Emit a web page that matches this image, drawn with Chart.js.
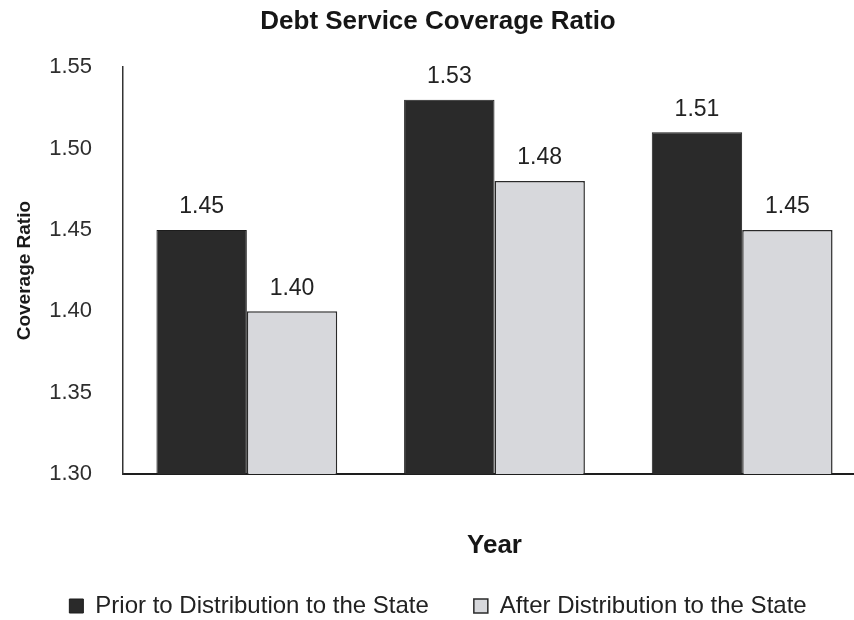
<!DOCTYPE html>
<html>
<head>
<meta charset="utf-8">
<script src="https://cdn.jsdelivr.net/npm/chart.js@4.4.1/dist/chart.umd.min.js"></script>
<style>
  html, body { margin: 0; padding: 0; background: #ffffff; overflow: hidden; width: 854px; height: 620px; }
  #wrap { width: 866px; height: 628px; position: relative; }
</style>
</head>
<body>
<div id="wrap"><canvas id="c" width="866" height="628"></canvas></div>
<script>
// ---- data ----
const categories = ['', '', ''];
const seriesNames = ['Prior to Distribution to the State', 'After Distribution to the State'];
const priorValues = [1.45, 1.53, 1.51];
const afterValues = [1.40, 1.48, 1.45];
const yMin = 1.30;
const yMax = 1.55;
const yStep = 0.05;

const FONT = "'Liberation Sans', Arial, Helvetica, sans-serif";

const valueLabels = {
  id: 'valueLabels',
  afterDatasetsDraw(chart) {
    const ctx = chart.ctx;
    ctx.save();
    ctx.font = "23px " + FONT;
    ctx.fillStyle = '#222222';
    ctx.textAlign = 'center';
    ctx.textBaseline = 'middle';
    chart.data.datasets.forEach((ds, i) => {
      const meta = chart.getDatasetMeta(i);
      meta.data.forEach((bar, j) => {
        ctx.fillText(Number(ds.data[j]).toFixed(2), bar.x, bar.y - 23);
      });
    });
    ctx.restore();
  }
};

new Chart(document.getElementById('c'), {
  type: 'bar',
  data: {
    labels: categories,
    datasets: [
      {
        label: seriesNames[0],
        data: priorValues,
        backgroundColor: '#2a2a2a',
        borderColor: '#1c1c1c',
        borderWidth: 1,
        categoryPercentage: 0.73,
        barPercentage: 1.0
      },
      {
        label: seriesNames[1],
        data: afterValues,
        backgroundColor: '#d7d8dc',
        borderColor: '#2a2a2a',
        borderWidth: 1.5,
        categoryPercentage: 0.73,
        barPercentage: 1.0
      }
    ]
  },
  options: {
    responsive: false,
    animation: false,
    layout: { padding: { left: 10, right: 0, top: 0, bottom: 0 } },
    plugins: {
      title: {
        display: true,
        text: 'Debt Service Coverage Ratio',
        color: '#161616',
        font: { family: FONT, size: 26, weight: 'bold' },
        padding: { top: 6, bottom: 30 }
      },
      legend: {
        display: true,
        position: 'bottom',
        labels: {
          color: '#222222',
          font: { family: FONT, size: 24 },
          boxWidth: 14,
          boxHeight: 14,
          padding: 45
        }
      },
      tooltip: { enabled: false }
    },
    scales: {
      x: {
        grid: { display: false, drawTicks: false },
        border: { display: true, color: '#1e1e1e', width: 2 },
        ticks: { display: false },
        title: {
          display: true,
          text: 'Year',
          color: '#161616',
          font: { family: FONT, size: 26, weight: 'bold' },
          padding: { top: 0, bottom: -12 }
        },
        afterFit(scale) { scale.height = 75; }
      },
      y: {
        min: yMin,
        max: yMax,
        grid: { display: false, drawTicks: false },
        border: { display: true, color: '#333333', width: 1.5 },
        ticks: {
          stepSize: yStep,
          padding: 31,
          color: '#2e2e2e',
          font: { family: FONT, size: 22 },
          callback: (v) => Number(v).toFixed(2)
        },
        title: {
          display: true,
          text: 'Coverage Ratio',
          color: '#1a1a1a',
          font: { family: FONT, size: 19, weight: 'bold' },
          padding: { top: 3, bottom: 0 }
        },
        afterFit(scale) { scale.width = 113; }
      }
    }
  },
  plugins: [valueLabels]
});
</script>
</body>
</html>
